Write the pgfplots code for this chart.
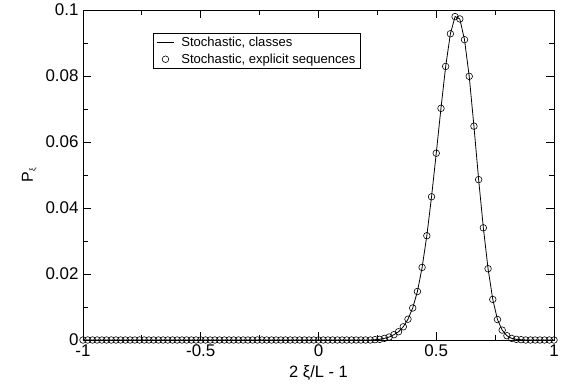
\documentclass[border=0pt]{standalone}
\usepackage{fontspec}
\setmainfont{Liberation Sans}
\usepackage{pgfplots}
\usepackage{pgfplotstable}
\pgfplotsset{compat=1.18}
\pgfplotstableread{
x y
-1.00 0
-0.98 0
-0.96 0
-0.94 0
-0.92 0
-0.90 0
-0.88 0
-0.86 0
-0.84 0
-0.82 0
-0.80 0
-0.78 0
-0.76 0
-0.74 0
-0.72 0
-0.70 0
-0.68 0
-0.66 0
-0.64 0
-0.62 0
-0.60 0
-0.58 0
-0.56 0
-0.54 0
-0.52 0
-0.50 0
-0.48 0
-0.46 0
-0.44 0
-0.42 0
-0.40 0
-0.38 0
-0.36 0
-0.34 0
-0.32 0
-0.30 0
-0.28 0
-0.26 0
-0.24 0
-0.22 0
-0.20 0
-0.18 0
-0.16 0
-0.14 0
-0.12 0
-0.10 0
-0.08 0
-0.06 0
-0.04 0
-0.02 0
0.00 0
0.02 0
0.04 0
0.06 0
0.08 0
0.10 0
0.12 0
0.14 0
0.16 0
0.18 0
0.20 0
0.22 0
0.24 0.0001
0.26 0.0002
0.28 0.0005
0.30 0.0009
0.32 0.0016
0.34 0.0025
0.36 0.0040
0.38 0.0063
0.40 0.0097
0.42 0.0147
0.44 0.0220
0.46 0.0316
0.48 0.0434
0.50 0.0566
0.52 0.0702
0.54 0.0829
0.56 0.0928
0.58 0.0980
0.60 0.0973
0.62 0.0910
0.64 0.0799
0.66 0.0648
0.68 0.0486
0.70 0.0340
0.72 0.0216
0.74 0.0123
0.76 0.0062
0.78 0.0030
0.80 0.0013
0.82 0.0005
0.84 0.0002
0.86 0.0001
0.88 0
0.90 0
0.92 0
0.94 0
0.96 0
0.98 0
1.00 0
}\datatable
\begin{document}
\begin{tikzpicture}
\begin{axis}[
  scale only axis,
  width=471bp, height=330bp,
  xmin=-1, xmax=1, ymin=0, ymax=0.1,
  clip=false,
  axis line style={line width=0.9pt},
  xtick={-1,-0.5,0,0.5,1},
  ytick={0,0.02,0.04,0.06,0.08,0.1},
  minor x tick num=1, minor y tick num=1,
  tick align=inside,
  major tick length=8bp, minor tick length=5bp,
  tick style={line width=0.8pt, black},
  scaled y ticks=false,
  /pgf/number format/assume math mode=true,
  yticklabel style={/pgf/number format/fixed, /pgf/number format/precision=2, xshift=-1bp},
  ticklabel style={font=\fontsize{17}{20}\selectfont},
  xticklabel style={yshift=-1bp},
  xlabel={2 ξ/L - 1},
  ylabel={P\raisebox{-0.3ex}{\fontsize{8}{9}\selectfont ξ}},
  xlabel style={font=\fontsize{16.5}{19}\selectfont, yshift=-2bp},
  ylabel style={font=\fontsize{16}{19}\selectfont, yshift=2bp},
  legend style={at={(0.149,0.929)}, anchor=north west, draw=black, line width=0.8pt,
    font=\fontsize{13.1}{16}\selectfont, inner xsep=3bp, inner ysep=1.5bp,
    row sep=1.5bp,
    /tikz/every odd column/.append style={column sep=5bp}},
  legend cell align=left,
  legend image post style={line width=0.8pt},
]
\addplot[black, line width=0.8pt, no markers] table[x=x,y=y] {\datatable};
\addlegendentry{Stochastic, classes}
\addplot[only marks, mark=o, mark size=3.3bp, mark options={line width=0.6pt, black}] table[x=x,y=y] {\datatable};
\addlegendentry{Stochastic, explicit sequences}
\path (current axis.south west) ++(-83bp,-45bp) coordinate (bbA);
\path (current axis.north east) ++(13bp,10bp) coordinate (bbB);
\end{axis}
\useasboundingbox (bbA) rectangle (bbB);
\end{tikzpicture}
\end{document}
